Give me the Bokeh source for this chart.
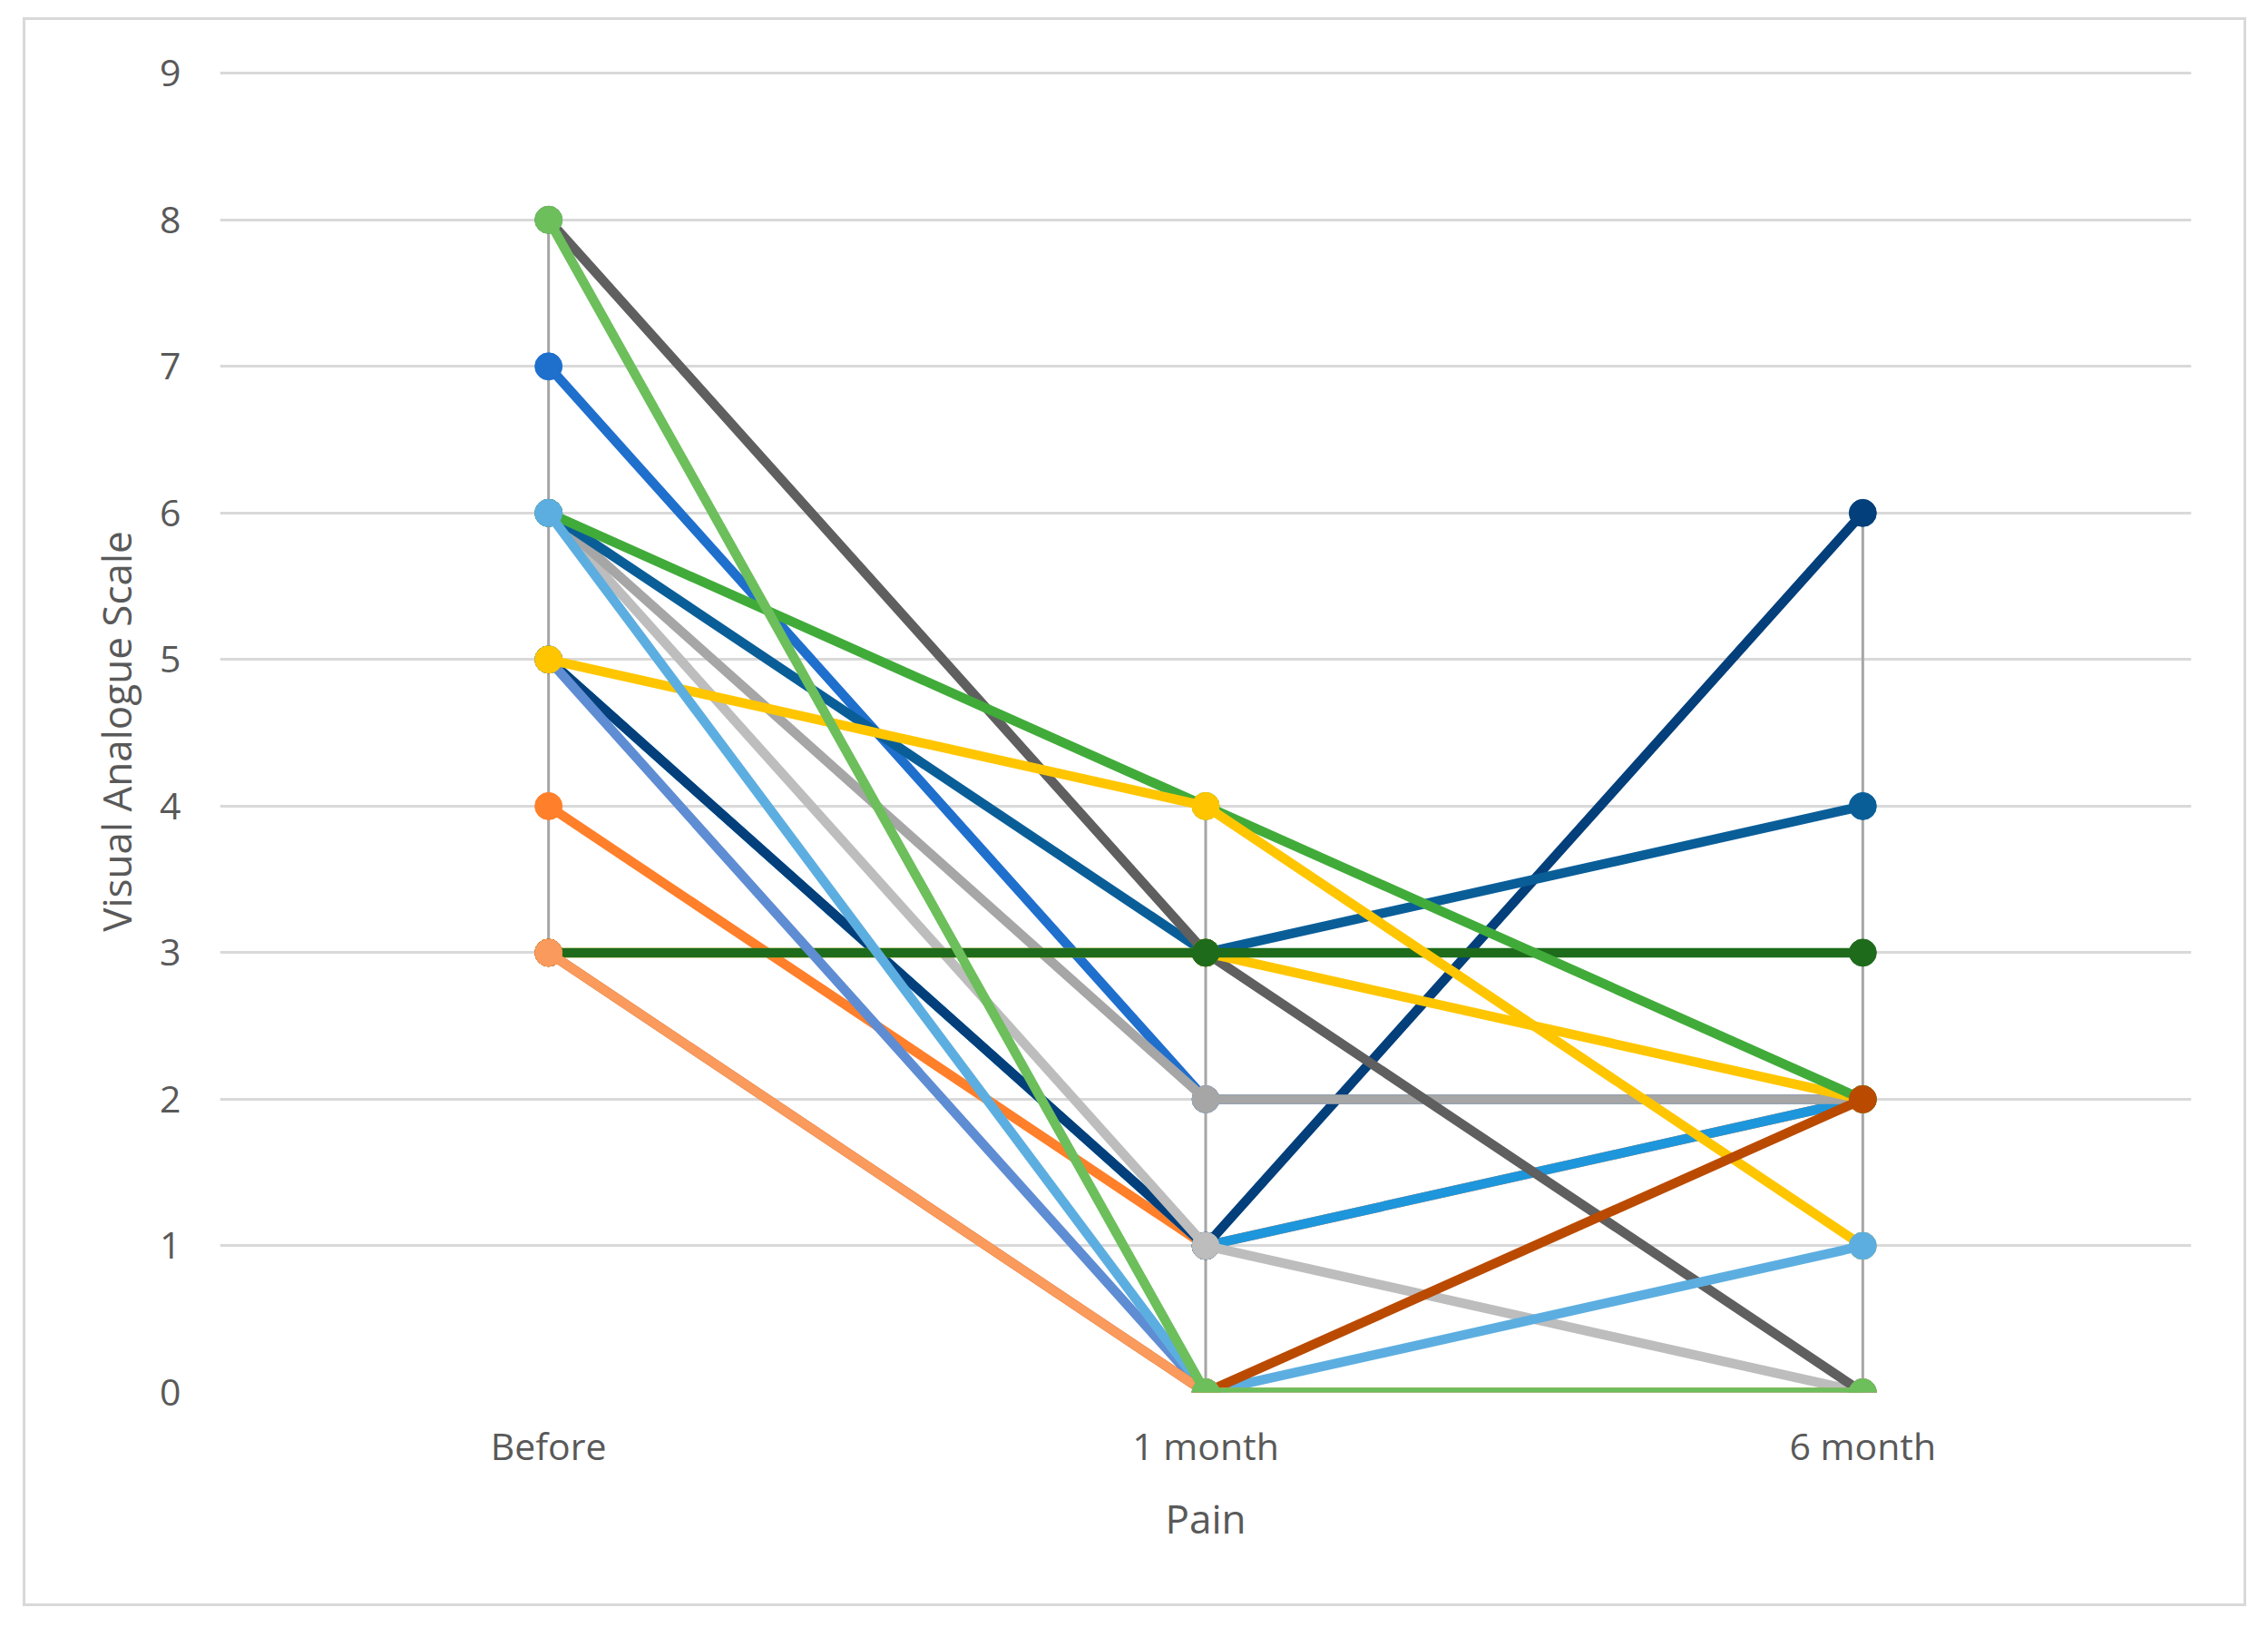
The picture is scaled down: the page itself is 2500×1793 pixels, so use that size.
from bokeh.plotting import figure
from bokeh.models import FactorRange, Range1d, FixedTicker
from bokeh.embed import file_html
from bokeh.resources import INLINE

# ---- data ----
time_points = ["Before", "1 month", "6 month"]
y_ticks = [0, 1, 2, 3, 4, 5, 6, 7, 8, 9]

# each patient: VAS at Before, 1 month, 6 month (drawing order: later on top)
p01 = [7, 2, 2]
p02 = [4, 1, 2]
p03 = [5, 1, 2]
p04 = [5, 1, 6]
p05 = [6, 1, 0]
p06 = [6, 2, 2]
p07 = [6, 3, 4]
p08 = [8, 3, 0]
p09 = [3, 3, 2]
p10 = [3, 3, 3]
p11 = [5, 0, 0]
p12 = [6, 4, 2]
p13 = [5, 4, 1]
p14 = [6, 0, 1]
p15 = [3, 0, 2]
p16 = [3, 0, 0]
p17 = [8, 0, 0]

patients = [p01, p02, p03, p04, p05, p06, p07, p08, p09, p10, p11, p12, p13, p14, p15, p16, p17]
colors = ["#1F6FCD", "#FF7F2A", "#1E96DC", "#033F7A", "#BDBDBD", "#A6A6A6", "#0A5E98",
          "#5F5F5F", "#FFC600", "#1E6B1B", "#5F8DD3", "#41AB3A", "#FFC600", "#5DAEE0",
          "#BA4A00", "#FA9A5C", "#6CBF5B"]

TEXT = "#595959"

p = figure(
    x_range=FactorRange(factors=time_points),
    y_range=Range1d(0, 9.02),
    width=2451, height=1751,
    output_backend="svg", toolbar_location=None,
    min_border_left=214, min_border_right=64, min_border_top=55, min_border_bottom=239,
    margin=(19, 0, 0, 25),
    styles={"border": "3px solid #D9D9D9", "box-sizing": "border-box"},
)
p.outline_line_color = None
p.background_fill_color = "white"
p.border_fill_color = "white"

# gridlines
p.xgrid.grid_line_color = None
p.ygrid.grid_line_color = "#D9D9D9"
p.ygrid.grid_line_width = 3
p.yaxis.ticker = FixedTicker(ticks=y_ticks)

# axes
for ax in (p.xaxis[0], p.yaxis[0]):
    ax.axis_line_color = None
    ax.major_tick_line_color = None
    ax.minor_tick_line_color = None
    ax.major_tick_out = 0
    ax.major_tick_in = 0
    ax.major_label_text_font = "Open Sans"
    ax.major_label_text_font_size = "41px"
    ax.major_label_text_color = TEXT
    ax.axis_label_text_font = "Open Sans"
    ax.axis_label_text_font_size = "44px"
    ax.axis_label_text_font_style = "normal"
    ax.axis_label_text_color = TEXT

p.xaxis.axis_label = "Pain"
p.yaxis.axis_label = "Visual Analogue Scale"
p.yaxis.major_label_standoff = 43
p.yaxis.axis_label_standoff = 15
p.xaxis.major_label_standoff = 30
p.xaxis.axis_label_standoff = 19

# high-low lines at each time point
lows = [min(pt[i] for pt in patients) for i in range(len(time_points))]
highs = [max(pt[i] for pt in patients) for i in range(len(time_points))]
p.segment(x0=time_points, y0=lows, x1=time_points, y1=highs,
          line_color="#A6A6A6", line_width=3)

# series
for vals, c in zip(patients, colors):
    p.line(time_points, vals, line_color=c, line_width=10.5)
    p.scatter(time_points, vals, size=30, fill_color=c, line_color=c)

open("out.html", "w").write(file_html(p, INLINE))
